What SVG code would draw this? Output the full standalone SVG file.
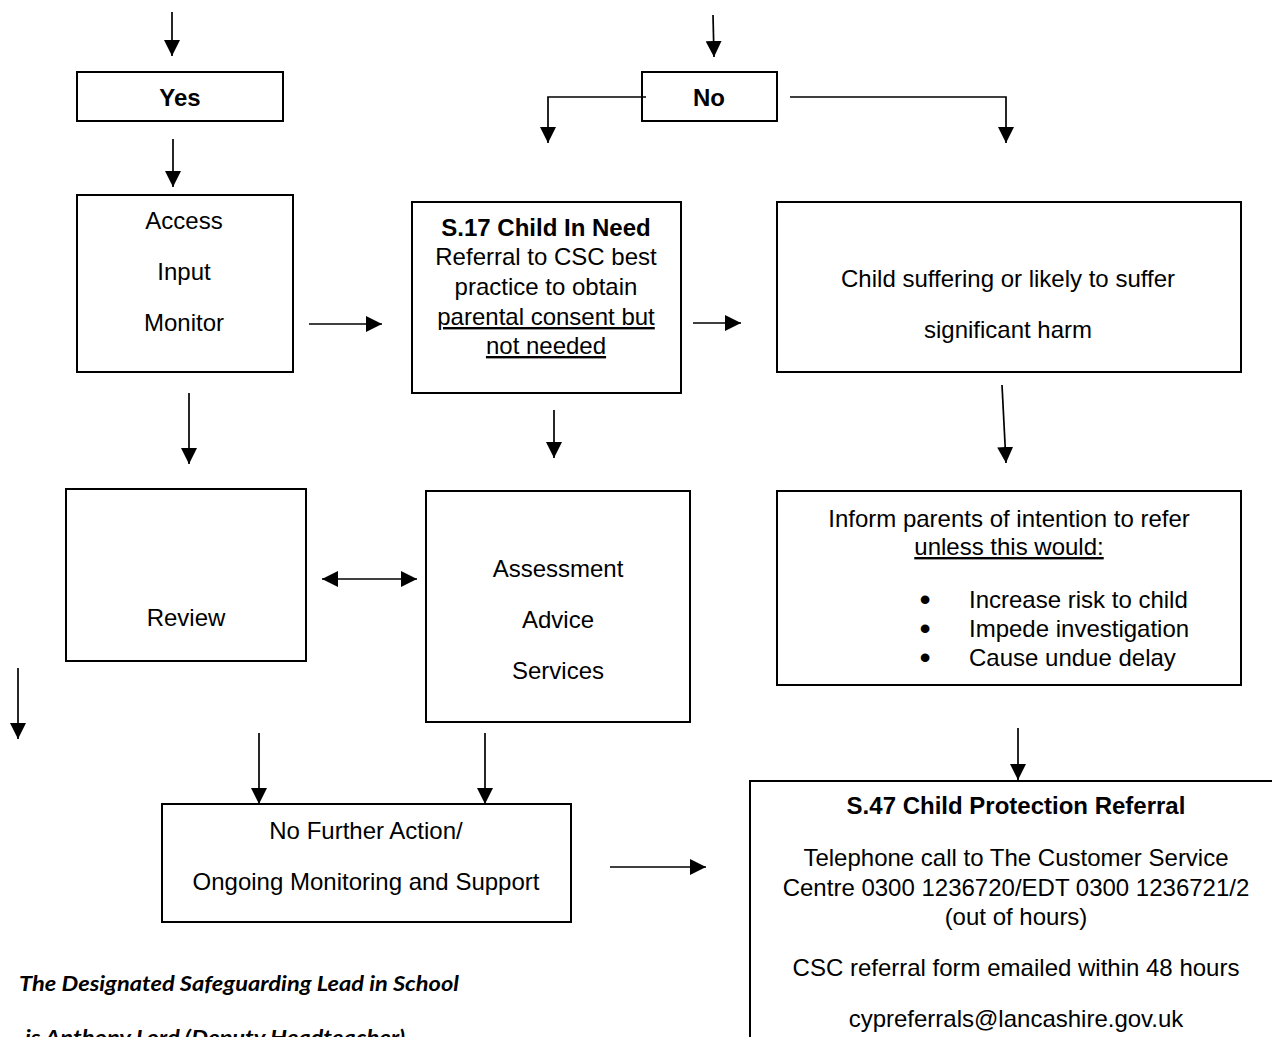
<svg xmlns="http://www.w3.org/2000/svg" width="1272" height="1037" viewBox="0 0 1272 1037">
<style>
.box{fill:#fff;stroke:#000;stroke-width:2}
.t{font-family:"Liberation Sans",Arial,sans-serif;font-size:24px;fill:#000;text-anchor:middle}
.b{font-weight:bold}
.u{text-decoration:underline}
.l{text-anchor:start}
.bul{font-size:32px}
.c path{fill:none;stroke:#000;stroke-width:1.7}
.note{font-family:Lato,"Liberation Sans",sans-serif;font-size:21px;font-weight:bold;font-style:italic;fill:#000}
</style>
<defs>
<marker id="ah" markerUnits="userSpaceOnUse" markerWidth="16" markerHeight="16" refX="16" refY="8" orient="auto-start-reverse" viewBox="0 0 16 16">
<path d="M0,0 L16,8 L0,16 Z" fill="#000"/>
</marker>
</defs>
<rect width="1272" height="1037" fill="#fff"/>

<g id="yes"><rect class="box" x="77" y="72" width="206" height="49"/><text class="t b" x="180" y="106">Yes</text></g>
<g id="no"><rect class="box" x="642" y="72" width="135" height="49"/><text class="t b" x="709" y="106">No</text></g>

<g id="access"><rect class="box" x="77" y="195" width="216" height="177"/>
<text class="t" x="184" y="228.5">Access</text>
<text class="t" x="184" y="279.5">Input</text>
<text class="t" x="184" y="330.5">Monitor</text></g>

<g id="s17"><rect class="box" x="412" y="202" width="269" height="191"/>
<text class="t b" x="546" y="236">S.17 Child In Need</text>
<text class="t" x="546" y="265">Referral to CSC best</text>
<text class="t" x="546" y="295">practice to obtain</text>
<text class="t u" x="546" y="325">parental consent but</text>
<text class="t u" x="546" y="354">not needed</text></g>

<g id="harm"><rect class="box" x="777" y="202" width="464" height="170"/>
<text class="t" x="1008" y="286.5">Child suffering or likely to suffer</text>
<text class="t" x="1008" y="337.5">significant harm</text></g>

<g id="review"><rect class="box" x="66" y="489" width="240" height="172"/>
<text class="t" x="186" y="625.5">Review</text></g>

<g id="assessment"><rect class="box" x="426" y="491" width="264" height="231"/>
<text class="t" x="558" y="576.5">Assessment</text>
<text class="t" x="558" y="627.5">Advice</text>
<text class="t" x="558" y="678.5">Services</text></g>

<g id="inform"><rect class="box" x="777" y="491" width="464" height="194"/>
<text class="t" x="1009" y="526.5">Inform parents of intention to refer</text>
<text class="t u" x="1009" y="555">unless this would:</text>
<text class="t bul" x="925" y="610">•</text><text class="t l" x="969" y="607.5">Increase risk to child</text>
<text class="t bul" x="925" y="639">•</text><text class="t l" x="969" y="636.5">Impede investigation</text>
<text class="t bul" x="925" y="668">•</text><text class="t l" x="969" y="665.5">Cause undue delay</text></g>

<g id="nfa"><rect class="box" x="162" y="804" width="409" height="118"/>
<text class="t" x="366" y="838.5">No Further Action/</text>
<text class="t" x="366" y="889.5">Ongoing Monitoring and Support</text></g>

<g id="s47"><rect class="box" x="750" y="781" width="540" height="300"/>
<text class="t b" x="1016" y="813.5">S.47 Child Protection Referral</text>
<text class="t" x="1016" y="865.5">Telephone call to The Customer Service</text>
<text class="t" x="1016" y="895.5">Centre 0300 1236720/EDT 0300 1236721/2</text>
<text class="t" x="1016" y="924.5">(out of hours)</text>
<text class="t" x="1016" y="975.5">CSC referral form emailed within 48 hours</text>
<text class="t" x="1016" y="1027">cypreferrals@lancashire.gov.uk</text></g>

<g id="note">
<text class="note" x="19" y="990.5" textLength="440" lengthAdjust="spacingAndGlyphs">The Designated Safeguarding Lead in School</text>
<text class="note" x="25" y="1044.5" textLength="380" lengthAdjust="spacingAndGlyphs">is Anthony Lord (Deputy Headteacher)</text>
</g>

<g id="connectors" class="c">
<path d="M172,12 V56" marker-end="url(#ah)"/>
<path d="M173,139 V187" marker-end="url(#ah)"/>
<path d="M713,15 L714,57" marker-end="url(#ah)"/>
<path d="M646,97 H548 V143" marker-end="url(#ah)"/>
<path d="M790,97 H1006 V143" marker-end="url(#ah)"/>
<path d="M309,324 H382" marker-end="url(#ah)"/>
<path d="M189,393 V464" marker-end="url(#ah)"/>
<path d="M693,323 H741" marker-end="url(#ah)"/>
<path d="M554,410 V458" marker-end="url(#ah)"/>
<path d="M1002,385 L1006,463" marker-end="url(#ah)"/>
<path d="M322,579 H417" marker-start="url(#ah)" marker-end="url(#ah)"/>
<path d="M18,668 V739" marker-end="url(#ah)"/>
<path d="M259,733 V804" marker-end="url(#ah)"/>
<path d="M485,733 V804" marker-end="url(#ah)"/>
<path d="M1018,728 V780" marker-end="url(#ah)"/>
<path d="M610,867 H706" marker-end="url(#ah)"/>
</g>
</svg>
